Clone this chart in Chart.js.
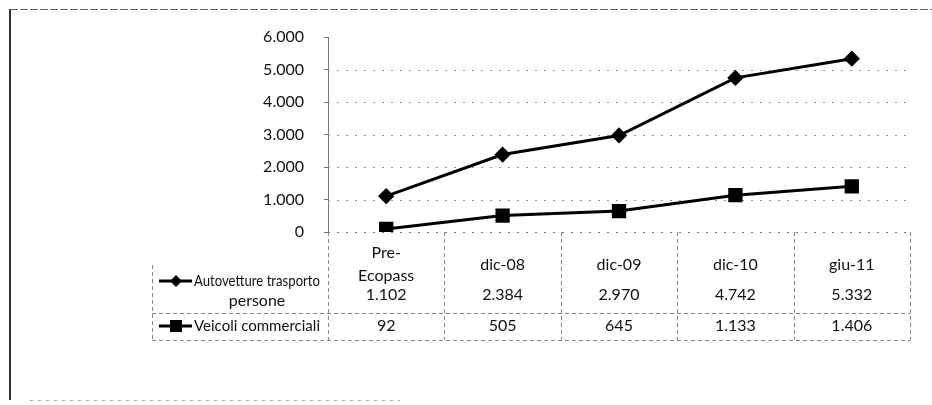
<!DOCTYPE html>
<html>
<head>
<meta charset="utf-8">
<script src="https://cdn.jsdelivr.net/npm/chart.js@4"></script>
<style>
  html, body { margin: 0; padding: 0; background: #fff; }
  #wrap { position: relative; width: 932px; height: 405px; }
</style>
</head>
<body>
<div id="wrap"><canvas id="myChart" width="932" height="405"></canvas></div>
<script>
// data
const categories = [['Pre-', 'Ecopass'], 'dic-08', 'dic-09', 'dic-10', 'giu-11'];
const autovetture = [1102, 2384, 2970, 4742, 5332];
const veicoli = [92, 505, 645, 1133, 1406];
const seriesNames = [['Autovetture trasporto', 'persone'], 'Veicoli commerciali'];
const yTicks = [0, 1000, 2000, 3000, 4000, 5000, 6000];

const FONT = 'Lato, "Open Sans", sans-serif';

function fmt(v) {
  return String(v).replace(/\B(?=(\d{3})+(?!\d))/g, '.');
}

// dotted horizontal grid, placed with the y scale
const dottedGrid = {
  id: 'dottedGrid',
  beforeDatasetsDraw(chart) {
    const ctx = chart.ctx;
    const y = chart.scales.y;
    const area = chart.chartArea;
    ctx.save();
    ctx.lineWidth = 1;
    ctx.setLineDash([2, 7]);
    yTicks.forEach(v => {
      if (v === 6000) return;
      const py = Math.round(y.getPixelForValue(v)) + 0.5;
      ctx.strokeStyle = v === 0 ? '#777' : '#999';
      ctx.beginPath();
      ctx.moveTo(area.left, py);
      ctx.lineTo(area.right, py);
      ctx.stroke();
    });
    ctx.restore();
  }
};

// draws the data table under the plot, using the x scale for column positions
const dataTable = {
  id: 'dataTable',
  afterDraw(chart) {
    const ctx = chart.ctx;
    const x = chart.scales.x;
    const area = chart.chartArea;
    const top = area.bottom;
    const rowSep = 313;
    const bottom = 340;
    const legLeft = 152;
    const legTop = 265;
    const n = categories.length;
    const colW = (area.right - area.left) / n;

    ctx.save();
    ctx.strokeStyle = '#888';
    ctx.lineWidth = 1;
    ctx.setLineDash([4, 3]);
    // vertical column lines
    for (let i = 0; i <= n; i++) {
      const px = Math.round(area.left + i * colW) + 0.5;
      ctx.beginPath();
      ctx.moveTo(px, top);
      ctx.lineTo(px, bottom);
      ctx.stroke();
    }
    // legend column left border
    ctx.beginPath();
    ctx.moveTo(legLeft + 0.5, legTop);
    ctx.lineTo(legLeft + 0.5, bottom);
    ctx.stroke();
    // horizontal lines
    [rowSep, bottom].forEach(py => {
      ctx.beginPath();
      ctx.moveTo(legLeft, py + 0.5);
      ctx.lineTo(area.right, py + 0.5);
      ctx.stroke();
    });
    ctx.setLineDash([]);

    ctx.fillStyle = '#111';
    ctx.font = '16px ' + FONT;
    ctx.textAlign = 'center';
    ctx.textBaseline = 'middle';
    categories.forEach((c, i) => {
      const cx = x.getPixelForValue(i);
      if (Array.isArray(c)) {
        ctx.fillText(c[0], cx, 253);
        ctx.fillText(c[1], cx, 276);
      } else {
        ctx.fillText(c, cx, 265);
      }
      ctx.fillText(fmt(autovetture[i]), cx, 295);
      ctx.fillText(fmt(veicoli[i]), cx, 326);
    });

    // legend keys
    ctx.strokeStyle = '#000';
    ctx.fillStyle = '#000';
    ctx.lineWidth = 3;
    [[281, 'diamond'], [326, 'square']].forEach(([ky, shape]) => {
      ctx.beginPath();
      ctx.moveTo(159, ky);
      ctx.lineTo(192, ky);
      ctx.stroke();
      ctx.beginPath();
      if (shape === 'diamond') {
        ctx.moveTo(176, ky - 6); ctx.lineTo(182, ky); ctx.lineTo(176, ky + 6); ctx.lineTo(170, ky);
        ctx.closePath(); ctx.fill();
      } else {
        ctx.fillRect(170, ky - 6, 12, 12);
      }
    });
    ctx.fillStyle = '#111';
    ctx.font = '16px ' + FONT;
    ctx.textAlign = 'center';
    ctx.fillText(seriesNames[0][0], 257, 281, 126);
    ctx.fillText(seriesNames[0][1], 257, 301);
    ctx.textAlign = 'left';
    ctx.fillText(seriesNames[1], 194, 326, 126);

    // outer frame of the scanned figure
    ctx.strokeStyle = '#333';
    ctx.lineWidth = 2;
    ctx.beginPath();
    ctx.moveTo(10, 400);
    ctx.lineTo(10, 9);
    ctx.stroke();
    ctx.strokeStyle = '#666';
    ctx.lineWidth = 1;
    ctx.setLineDash([8, 2]);
    ctx.beginPath();
    ctx.moveTo(10, 9.5);
    ctx.lineTo(932, 9.5);
    ctx.stroke();
    ctx.setLineDash([3, 5]);
    ctx.strokeStyle = '#aaa';
    ctx.beginPath();
    ctx.moveTo(30, 400.5);
    ctx.lineTo(400, 400.5);
    ctx.stroke();
    ctx.restore();
  }
};

const ctx = document.getElementById('myChart').getContext('2d');
new Chart(ctx, {
  type: 'line',
  data: {
    labels: categories,
    datasets: [
      {
        label: seriesNames[0].join(' '),
        data: autovetture,
        borderColor: '#000',
        backgroundColor: '#000',
        borderWidth: 3,
        pointStyle: 'rectRot',
        pointRadius: 6,
        pointHoverRadius: 6
      },
      {
        label: seriesNames[1],
        data: veicoli,
        borderColor: '#000',
        backgroundColor: '#000',
        borderWidth: 3,
        pointStyle: 'rect',
        pointRadius: 8,
        pointHoverRadius: 8
      }
    ]
  },
  options: {
    responsive: false,
    animation: false,
    layout: { padding: { left: 0, top: 37, right: 22, bottom: 173 } },
    plugins: { legend: { display: false }, tooltip: { enabled: false } },
    scales: {
      x: {
        type: 'category',
        offset: true,
        display: false
      },
      y: {
        min: 0,
        max: 6000,
        afterBuildTicks(scale) {
          scale.ticks = yTicks.map(v => ({ value: v }));
        },
        afterFit(scale) {
          scale.width = 328;
        },
        border: { color: '#777', width: 1 },
        grid: {
          drawOnChartArea: false,
          tickLength: 4,
          tickColor: '#777'
        },
        ticks: {
          color: '#111',
          padding: 20,
          font: { family: FONT, size: 16 },
          callback: v => fmt(v)
        }
      }
    }
  },
  plugins: [dottedGrid, dataTable]
});
</script>
</body>
</html>
